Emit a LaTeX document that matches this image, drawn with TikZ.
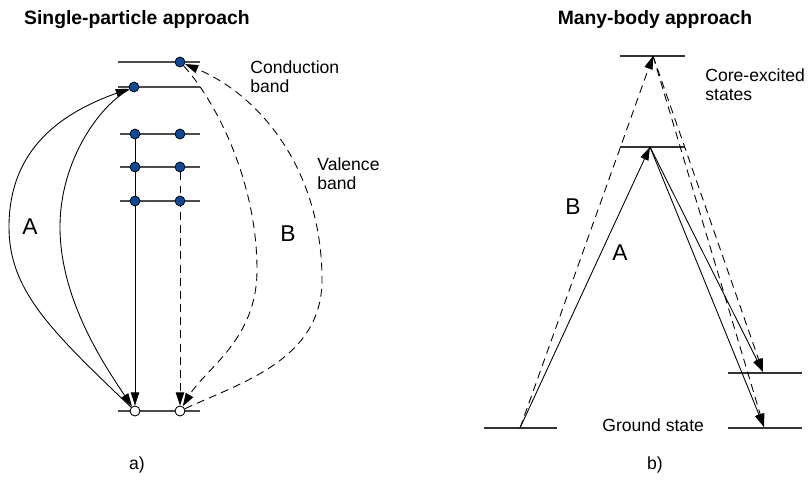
\documentclass[tikz,border=0pt]{standalone}
\usepackage{fontspec}
\setmainfont{Liberation Sans}
\usetikzlibrary{arrows.meta,backgrounds}
\definecolor{dotblue}{RGB}{16,72,152}
\begin{document}
\begin{tikzpicture}[x=0.02cm,y=-0.02cm,
  edot/.style={circle,draw=black,fill=dotblue,inner sep=0pt,minimum size=0.2cm,line width=0.4pt},
  hole/.style={circle,draw=black,fill=white,inner sep=0pt,minimum size=0.2cm,line width=0.5pt},
  lvl/.style={draw=black!70,line width=0.6pt},
  lvlthick/.style={draw=black!80,line width=1.4pt},
  arr/.style={-{Triangle[length=7.5pt,width=4.8pt]},line width=0.5pt},
  dsh/.style={dash pattern=on 4.5pt off 3pt},
  lbl/.style={font=\fontsize{10}{11.3}\selectfont,align=left,inner sep=0pt},
  big/.style={font=\fontsize{13}{15}\selectfont,inner sep=0pt},
  ttl/.style={font=\fontsize{11}{13}\selectfont\bfseries,inner sep=0pt}]
\useasboundingbox (0,0) rectangle (811,480);

% a) single-particle picture
\node[ttl] (ttla) at (137,20) {Single-particle approach};
\draw[lvl] (118,62) -- (200,62);
\draw[lvl] (118,87) -- (200,87);
\foreach \y in {134,167,201} \draw[lvl] (120,\y) -- (200,\y);
\draw[lvl] (118,411) -- (200,411);

\node[edot] (c1) at (180,62) {};
\node[edot] (c2) at (134,87) {};
\foreach \y/\n in {134/1,167/2,201/3} {
  \node[edot] (va\n) at (135,\y) {};
  \node[edot] (vb\n) at (180,\y) {};
}
\node[hole] (g1) at (135,411) {};
\node[hole] (g2) at (180,411) {};

\begin{scope}[on background layer]
\draw[arr] (va1) -- (g1);
\draw[arr,dsh] (vb2) -- (g2);
% A
\draw[arr] (g1) .. controls (50,330) and (9,290) .. (9,227) .. controls (9,147) and (64,112) .. (c2);
\draw[arr] (c2) .. controls (100,105) and (60,160) .. (60,227) .. controls (60,300) and (105,366) .. (g1);
% B
\draw[arr,dsh] (c1) .. controls (215,100) and (257,180) .. (257,270) .. controls (257,340) and (205,369) .. (g2);
\draw[arr,dsh] (g2) .. controls (240,383) and (322,360) .. (322,280) .. controls (322,170) and (260,95) .. (c1);
\end{scope}

\node[lbl,anchor=north west] (cb) at (250,60) {Conduction\\band};
\node[lbl,anchor=north west] (vb) at (317,157) {Valence\\band};
\node[big] (la) at (30,227) {A};
\node[big] (lb) at (288,234) {B};
\node[lbl] (capa) at (137,465) {a)};

% b) many-body picture
\node[ttl] (ttlb) at (655,20) {Many-body approach};
\draw[lvlthick] (620,56) -- (685,56);
\draw[lvlthick] (620,147) -- (685,147);
\draw[lvlthick] (484,428) -- (557,428);
\draw[lvlthick] (728,373) -- (802,373);
\draw[lvlthick] (728,428) -- (802,428);

\coordinate (e2) at (653,56);
\coordinate (e1) at (650,147);
\coordinate (gl) at (520,428);
\coordinate (f1) at (763,372);
\coordinate (f0) at (764,427);

\draw[arr] (gl) -- (e1);
\draw[arr,dsh] (gl) -- (e2);
\draw[arr] (e1) -- (f1);
\draw[arr] (e1) -- (f0);
\draw[arr,dsh] (e2) -- (f1);
\draw[arr,dsh] (e2) -- (f0);

\node[lbl,anchor=north west] (ces) at (705,68) {Core-excited\\states};
\node[lbl,anchor=base west] (gs) at (602,431) {Ground state};
\node[big] (rb) at (573,207) {B};
\node[big] (ra) at (620,253) {A};
\node[lbl] (capb) at (655,465) {b)};
\end{tikzpicture}
\end{document}
